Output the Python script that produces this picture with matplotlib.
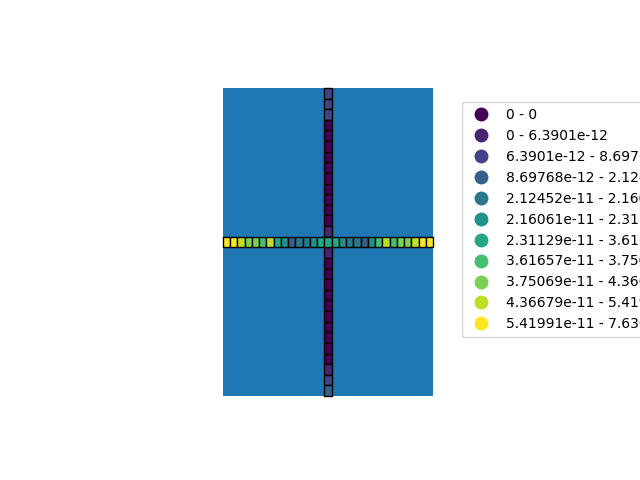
import numpy as np
import matplotlib
matplotlib.use("Agg")
import matplotlib.pyplot as plt
from matplotlib.patches import Rectangle
from matplotlib.collections import PatchCollection
from matplotlib.lines import Line2D

# ---- data ----
n_cells = 29
# upper bounds of the 11 classes (from legend)
class_upper = [0.0, 6.3901e-12, 8.69768e-12, 2.12452e-11, 2.16061e-11,
               2.31129e-11, 3.61657e-11, 3.75069e-11, 4.36679e-11,
               5.41991e-11, 7.63052e-11]
legend_labels = ["0 - 0", "0 - 6.3901e-12", "6.3901e-12 - 8.69768e-12",
                 "8.69768e-12 - 2.12452e-11", "2.12452e-11 - 2.16061e-11",
                 "2.16061e-11 - 2.31129e-11", "2.31129e-11 - 3.61657e-11",
                 "3.61657e-11 - 3.75069e-11", "3.75069e-11 - 4.36679e-11",
                 "4.36679e-11 - 5.41991e-11", "5.41991e-11 - 7.63052e-11"]
# horizontal row, left to right
row_values = [7.6e-11, 6.8e-11, 5.1e-11, 4.2e-11, 4.0e-11, 3.7e-11, 4.8e-11,
              2.9e-11, 2.25e-11, 1.6e-11, 2.14e-11, 2.15e-11, 2.26e-11, 2.6e-11,
              2.8e-11, 2.6e-11, 2.26e-11, 2.15e-11, 2.14e-11, 1.6e-11, 2.25e-11,
              3.7e-11, 4.8e-11, 3.7e-11, 4.0e-11, 4.2e-11, 5.1e-11, 6.8e-11, 7.6e-11]
# vertical column, top to bottom
col_values = [7.8e-12, 7.5e-12, 7.0e-12, 0, 0, 0, 0, 0, 0, 0, 0, 0, 0, 3.2e-12,
              2.8e-11, 3.2e-12, 0, 0, 0, 0, 0, 0, 0, 0, 0, 0, 3.5e-12, 7.5e-12, 1.2e-11]

# ---- figure ----
fig = plt.figure(figsize=(6.4, 4.8), dpi=100)
ax = fig.add_axes([223/640, 84/480, 210/640, 308/480])
ax.set_xlim(0, n_cells)
ax.set_ylim(0, n_cells)
ax.set_axis_off()

ax.add_patch(Rectangle((0, 0), n_cells, n_cells, facecolor="#1f77b4", edgecolor="none"))

colors = matplotlib.colormaps["viridis"](np.linspace(0, 1, len(class_upper)))

def cls(v):
    return int(np.searchsorted(class_upper, v, side="left"))

center = n_cells // 2
col_rects = [Rectangle((center, n_cells - 1 - i), 1, 1) for i in range(n_cells)]
col_cols = [colors[cls(v)] for v in col_values]
ax.add_collection(PatchCollection(col_rects, facecolors=col_cols, edgecolors="black",
                                  linewidths=1.0, clip_on=False, zorder=2))
row_rects = [Rectangle((i, center), 1, 1) for i in range(n_cells)]
row_cols = [colors[cls(v)] for v in row_values]
ax.add_collection(PatchCollection(row_rects, facecolors=row_cols, edgecolors="black",
                                  linewidths=1.0, clip_on=False, zorder=3))

handles = [Line2D([0], [0], linestyle="none", marker="o", markersize=10,
                  markerfacecolor=colors[i], markeredgewidth=0, color=colors[i])
           for i in range(len(legend_labels))]
fig.legend(handles, legend_labels, loc="upper left",
           bbox_to_anchor=(461.7/640, 1 - 102.3/480), borderaxespad=0)

fig.savefig("out.png", dpi=100)
